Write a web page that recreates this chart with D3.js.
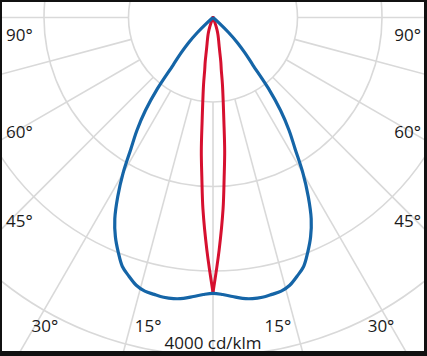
<!DOCTYPE html>
<html><head><meta charset="utf-8">
<script src="https://cdn.jsdelivr.net/npm/d3@7"></script>
<style>html,body{margin:0;padding:0;background:#fff;overflow:hidden}</style>
</head><body><div id="chart"></div>
<script>
// ---- data ----
const circleValues = [1000, 2000, 3000, 4000];
const angleTicks = [0, 15, 30, 45, 60, 75, 90];
const sideLabels = [90, 60, 45];
const bottomLabels = [30, 15];
const unitLabel = "4000 cd/klm";
// blue curve (C0-C180 plane), gamma in degrees, intensity in cd/klm
const gammaBlue = [0, 2, 4, 6, 8, 10, 12, 14, 16, 18, 20, 22, 24, 26, 28, 30, 32, 34, 36, 38, 40, 42, 44, 46, 48, 50];
const blueValues = [3264, 3280, 3310, 3343, 3360, 3362, 3350, 3337, 3296, 3219, 3136, 2994, 2840, 2651, 2402, 2130, 1834, 1609, 1361, 1065, 734, 568, 426, 260, 95, 0];
// red curve (C90-C270 plane)
const gammaRed = [0, 1.5, 3, 4, 5, 6, 8, 9, 10, 11, 12, 14, 16, 18, 20, 23];
const redValues = [3254, 2757, 2272, 1893, 1586, 1231, 805, 627, 532, 426, 355, 272, 213, 154, 83, 0];

// ---- layout ----
const W = 427, H = 356;
const frame = {x: 2, y: 2, w: 422, h: 349};
const cx = 213, cy = 17.5;
const rad = d3.scaleLinear().domain([0, 4000]).range([0, 338]);
const toRad = d => d * Math.PI / 180;

const svg = d3.select("#chart").append("svg").attr("width", W).attr("height", H);
svg.append("rect").attr("width", W).attr("height", H).attr("fill", "#111");
svg.append("rect").attr("x", frame.x).attr("y", frame.y).attr("width", frame.w).attr("height", frame.h).attr("fill", "#fff");
svg.append("clipPath").attr("id", "clip").append("rect")
  .attr("x", frame.x).attr("y", frame.y).attr("width", frame.w).attr("height", frame.h);

const g = svg.append("g").attr("clip-path", "url(#clip)");
const gc = g.append("g").attr("transform", `translate(${cx},${cy})`);

const gridColor = "#d9d9d9";
// circles
gc.selectAll("circle.grid").data(circleValues).join("circle")
  .attr("class", "grid").attr("r", d => rad(d))
  .attr("fill", "none").attr("stroke", gridColor).attr("stroke-width", 1.6);

// radial lines, both sides
const spokes = [];
angleTicks.forEach(a => { spokes.push(a); if (a !== 0) spokes.push(-a); });
const r0 = rad(circleValues[0]), r1 = rad(8000);
gc.selectAll("line.spoke").data(spokes).join("line")
  .attr("class", "spoke")
  .attr("x1", d => r0 * Math.sin(toRad(d)))
  .attr("y1", d => r0 * Math.cos(toRad(d)))
  .attr("x2", d => r1 * Math.sin(toRad(d)))
  .attr("y2", d => r1 * Math.cos(toRad(d)))
  .attr("stroke", gridColor).attr("stroke-width", 1.6);

// curves
function closedPoints(gammas, vals) {
  const pts = [];
  for (let i = gammas.length - 1; i >= 0; i--) pts.push([Math.PI + toRad(gammas[i]), rad(vals[i])]);
  for (let i = 1; i < gammas.length; i++) pts.push([Math.PI - toRad(gammas[i]), rad(vals[i])]);
  return pts;
}
function halfPoints(gammas, vals, side) {
  return gammas.map((gm, i) => [Math.PI + side * toRad(gm), rad(vals[i])]);
}
const line = d3.lineRadial().angle(d => d[0]).radius(d => d[1]).curve(d3.curveCatmullRom.alpha(0.5));

[-1, 1].forEach(side => {
  gc.append("path").datum(halfPoints(gammaRed, redValues, side))
    .attr("d", line).attr("fill", "none").attr("stroke", "#d6102f")
    .attr("stroke-width", 3).attr("stroke-linejoin", "round").attr("stroke-linecap", "round");
});
gc.append("path").datum(closedPoints(gammaBlue, blueValues))
  .attr("d", line).attr("fill", "none").attr("stroke", "#1565a7")
  .attr("stroke-width", 3.2).attr("stroke-linejoin", "round");

// labels
const font = "'Open Sans', 'DejaVu Sans', sans-serif";
const fs = 17;
const textColor = "#1a1a1a";
const leftX = frame.x + 4, rightX = frame.x + frame.w - 3;
sideLabels.forEach(a => {
  const yLine = a === 90 ? cy : cy + (cx - frame.x) / Math.tan(toRad(a));
  const y = a === 90 ? cy + 23.5 : yLine - 1.5;
  svg.append("text").attr("x", leftX).attr("y", y).attr("text-anchor", "start")
    .attr("font-family", font).attr("font-size", fs).attr("fill", textColor).text(a + "°");
  svg.append("text").attr("x", rightX).attr("y", y).attr("text-anchor", "end")
    .attr("font-family", font).attr("font-size", fs).attr("fill", textColor).text(a + "°");
});
const bottomY = frame.y + frame.h;
const labY = 332;
bottomLabels.forEach(a => {
  const off = (bottomY - cy) * Math.tan(toRad(a)) - 24.5;
  [-1, 1].forEach(s => {
    svg.append("text").attr("x", cx + s * off).attr("y", labY).attr("text-anchor", "middle")
      .attr("font-family", font).attr("font-size", fs).attr("fill", textColor).text(a + "°");
  });
});
svg.append("text").attr("x", cx).attr("y", 349).attr("text-anchor", "middle")
  .attr("font-family", font).attr("font-size", fs).attr("fill", textColor).text(unitLabel);
</script>
</body></html>
